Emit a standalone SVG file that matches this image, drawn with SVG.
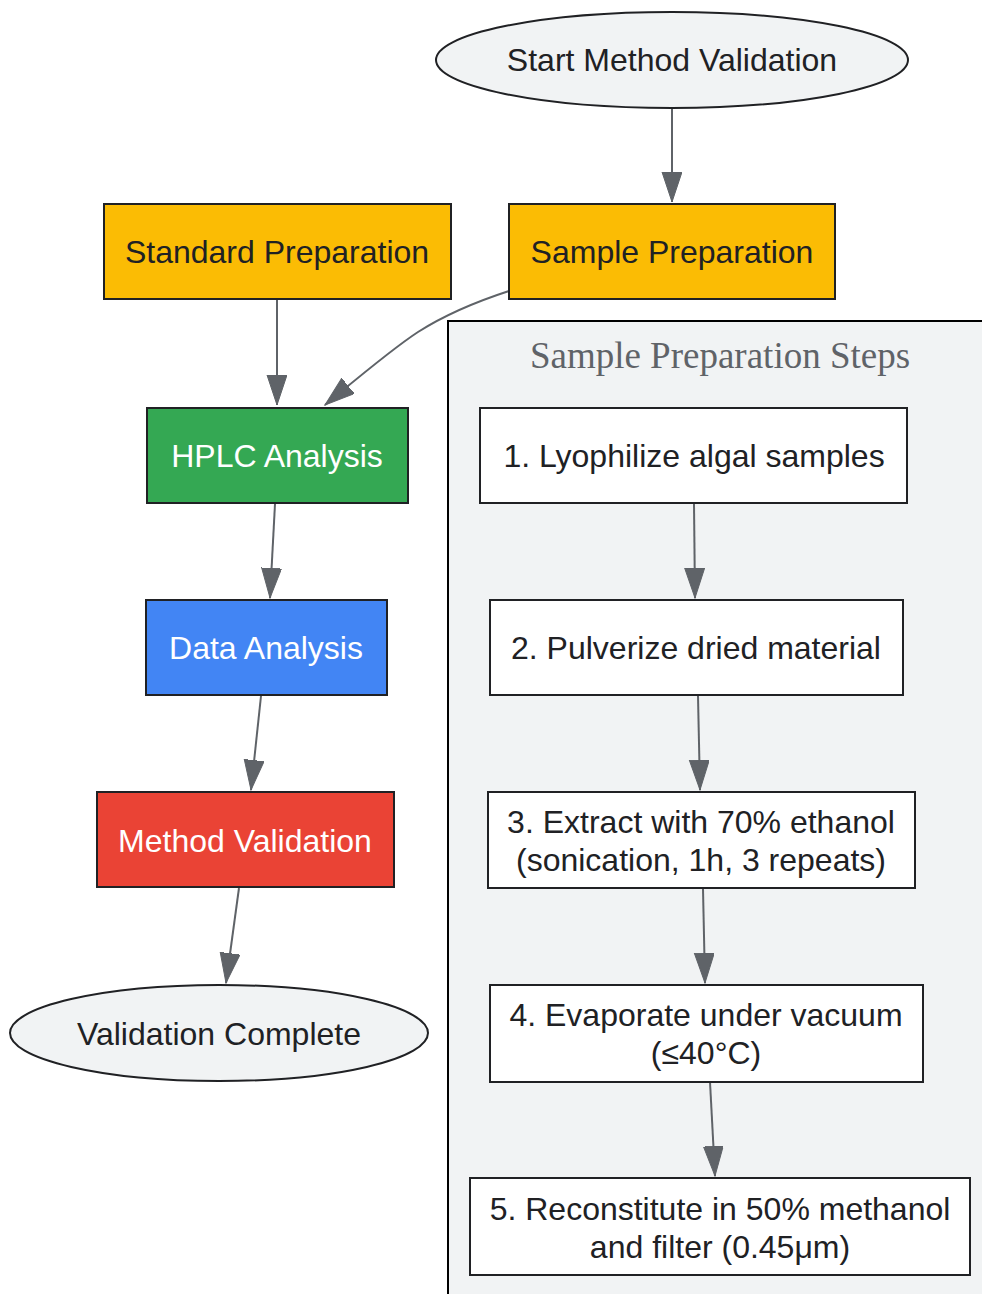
<svg xmlns="http://www.w3.org/2000/svg" width="982" height="1294" viewBox="0 0 982 1294">
<style>
.n{stroke:#202124;stroke-width:2}
.t{font-family:"Liberation Sans",Arial,sans-serif;font-size:32px;fill:#202124;text-anchor:middle}
.w{fill:#ffffff}
.e{fill:none;stroke:#5f6368;stroke-width:2}
</style>
<defs>
<marker id="ah" markerUnits="userSpaceOnUse" markerWidth="32" markerHeight="22" refX="30" refY="10" orient="auto">
<path d="M0,0 L30,10 L0,20 Z" fill="#5f6368" stroke="#5f6368" stroke-width="1"/>
</marker>
</defs>
<rect width="982" height="1294" fill="#ffffff"/>
<g id="cluster_sample">
<rect x="448" y="321" width="560" height="1000" fill="#f1f3f4" stroke="#000000" stroke-width="2"/>
<text x="720" y="368" style="font-family:'Liberation Serif','Times New Roman',serif;font-size:37px;fill:#5f6368;text-anchor:middle">Sample Preparation Steps</text>
</g>
<g id="edges">
<path class="e" d="M672,108 L672,202" marker-end="url(#ah)"/>
<path class="e" d="M277,299 L277,405" marker-end="url(#ah)"/>
<path class="e" d="M509,291 C472,303 440,318 418,332 C392,349 365,372 325,405" marker-end="url(#ah)"/>
<path class="e" d="M275,504 L270,598" marker-end="url(#ah)"/>
<path class="e" d="M261,696 L251,790" marker-end="url(#ah)"/>
<path class="e" d="M239,888 L226,983" marker-end="url(#ah)"/>
<path class="e" d="M694,504 L695,598" marker-end="url(#ah)"/>
<path class="e" d="M698,696 L700,790" marker-end="url(#ah)"/>
<path class="e" d="M703,889 L705,983" marker-end="url(#ah)"/>
<path class="e" d="M710,1082 L715,1176" marker-end="url(#ah)"/>
</g>
<g id="start">
<ellipse class="n" cx="672" cy="60" rx="236" ry="48" fill="#f1f3f4"/>
<text class="t" x="672" y="71">Start Method Validation</text>
</g>
<g id="standard_prep">
<rect class="n" x="104" y="204" width="347" height="95" fill="#fbbc04"/>
<text class="t" x="277" y="263">Standard Preparation</text>
</g>
<g id="sample_prep">
<rect class="n" x="509" y="204" width="326" height="95" fill="#fbbc04"/>
<text class="t" x="672" y="263">Sample Preparation</text>
</g>
<g id="hplc">
<rect class="n" x="147" y="408" width="261" height="95" fill="#34a853"/>
<text class="t w" x="277" y="467">HPLC Analysis</text>
</g>
<g id="data_analysis">
<rect class="n" x="146" y="600" width="241" height="95" fill="#4285f4"/>
<text class="t w" x="266" y="659">Data Analysis</text>
</g>
<g id="method_validation">
<rect class="n" x="97" y="792" width="297" height="95" fill="#ea4335"/>
<text class="t w" x="245" y="852">Method Validation</text>
</g>
<g id="complete">
<ellipse class="n" cx="219" cy="1033" rx="209" ry="48" fill="#f1f3f4"/>
<text class="t" x="219" y="1045">Validation Complete</text>
</g>
<g id="step1">
<rect class="n" x="480" y="408" width="427" height="95" fill="#ffffff"/>
<text class="t" x="694" y="467">1. Lyophilize algal samples</text>
</g>
<g id="step2">
<rect class="n" x="490" y="600" width="413" height="95" fill="#ffffff"/>
<text class="t" x="696" y="659">2. Pulverize dried material</text>
</g>
<g id="step3">
<rect class="n" x="488" y="792" width="427" height="96" fill="#ffffff"/>
<text class="t" x="701" y="833">3. Extract with 70% ethanol</text>
<text class="t" x="701" y="871">(sonication, 1h, 3 repeats)</text>
</g>
<g id="step4">
<rect class="n" x="490" y="985" width="433" height="97" fill="#ffffff"/>
<text class="t" x="706" y="1026">4. Evaporate under vacuum</text>
<text class="t" x="706" y="1064">(≤40°C)</text>
</g>
<g id="step5">
<rect class="n" x="470" y="1178" width="500" height="97" fill="#ffffff"/>
<text class="t" x="720" y="1220">5. Reconstitute in 50% methanol</text>
<text class="t" x="720" y="1258">and filter (0.45μm)</text>
</g>
</svg>
